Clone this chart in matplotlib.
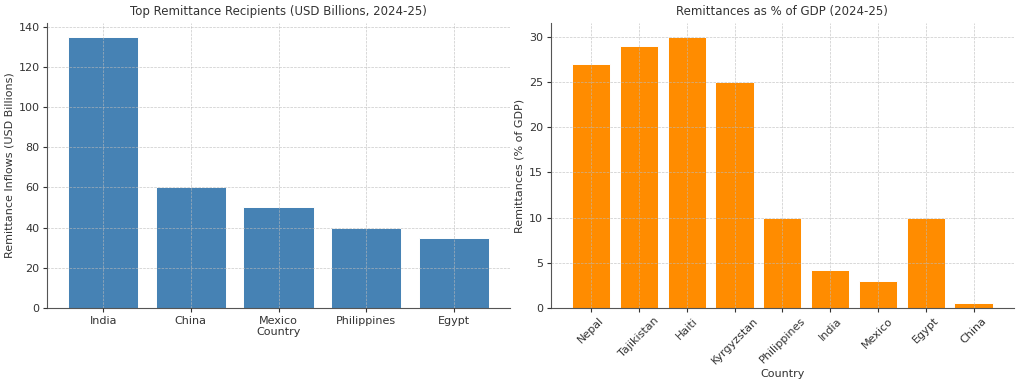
import matplotlib
matplotlib.use("Agg")
import matplotlib.pyplot as plt

left_countries = ["India", "China", "Mexico", "Philippines", "Egypt"]
left_values = [135, 60, 50, 40, 35]

right_countries = ["Nepal", "Tajikistan", "Haiti", "Kyrgyzstan", "Philippines",
                   "India", "Mexico", "Egypt", "China"]
right_values = [27, 29, 30, 25, 10, 4.2, 3, 10, 0.5]

plt.rcParams['font.family'] = ['DejaVu Sans']
fig = plt.figure(figsize=(10.24, 3.84), dpi=100)
ax1 = fig.add_axes([0.046, 0.198, 0.452, 0.742])
ax2 = fig.add_axes([0.538, 0.198, 0.452, 0.742])

text_col = '#333333'
for ax in (ax1, ax2):
    for s in ('top', 'right'):
        ax.spines[s].set_visible(False)
    for s in ('left', 'bottom'):
        ax.spines[s].set_color('#555555')
        ax.spines[s].set_linewidth(0.8)
    ax.tick_params(labelsize=8, colors=text_col, length=3, width=0.8, pad=2.5)
    ax.grid(True, linestyle='--', linewidth=0.5, color='#bbbbbb', alpha=0.8)
    ax.set_axisbelow(False)

ax1.bar(left_countries, left_values, color='#4682B4', edgecolor='white', linewidth=0.7)
ax1.set_title("Top Remittance Recipients (USD Billions, 2024-25)", fontsize=8.5, color=text_col, pad=6)
ax1.set_xlabel("Country", fontsize=8, color=text_col, labelpad=1)
ax1.set_ylabel("Remittance Inflows (USD Billions)", fontsize=8, color=text_col, labelpad=3)

ax2.bar(right_countries, right_values, color='#FF8C00', edgecolor='white', linewidth=0.7)
ax2.set_title("Remittances as % of GDP (2024-25)", fontsize=8.5, color=text_col, pad=6)
ax2.set_xlabel("Country", fontsize=8, color=text_col, labelpad=2)
ax2.set_ylabel("Remittances (% of GDP)", fontsize=8, color=text_col, labelpad=3)
plt.setp(ax2.get_xticklabels(), rotation=45, ha='center')

fig.savefig("out.png", dpi=100, facecolor='white')
